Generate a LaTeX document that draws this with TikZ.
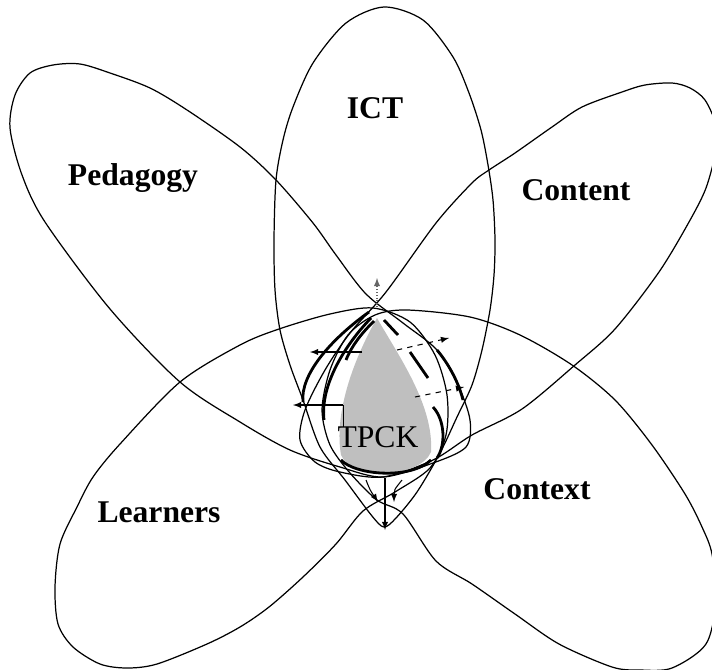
\documentclass[tikz,border=0pt]{standalone}
\usepackage{fontspec}
\setmainfont{Liberation Serif}
\tikzset{>=latex}
\colorlet{tpckgray}{black!25}
\tikzset{%
  petal/.style={draw, line width=0.7pt},% outline of one domain
  flow/.style={line width=1.6pt},% thick flow marks round TPCK
  petaltext/.style={anchor=base, font=\fontsize{18}{20}\selectfont\bfseries},%
  arr/.style={->, line width=0.6pt}%
}
\begin{document}
\begin{tikzpicture}[x=0.02cm,y=-0.02cm]
  \useasboundingbox (0,0) rectangle (712,669);
  \clip (0,0) rectangle (712,669);
  % ICT
  \draw[petal] plot[smooth cycle] coordinates {(384,7) (423,20) (453,57) (469,93)
    (481,130) (488,165) (493,200) (495,240) (494,275) (490,310) (482,350)
    (472,385) (457,417) (440,453) (417,492) (396,518) (384,527) (372,516)
    (345,480) (320,447) (303,400) (290,365) (280,330) (275,290) (274,240)
    (276,180) (283,140) (293,107) (313,63) (346,23)};
  % Pedagogy
  \draw[petal] plot[smooth cycle] coordinates {(10,128) (15,95) (30,73) (53,65)
    (80,64) (110,73) (150,88) (187,110) (240,147) (276,180) (313,223) (336,255)
    (366,294) (403,323) (437,350) (458,385) (470,420) (466,447) (433,463)
    (383,477) (340,467) (290,450) (240,422) (180,382) (110,309) (45,222)
    (22,175)};
  % Content
  \draw[petal] plot[smooth cycle] coordinates {(716,125) (705,100) (690,88)
    (672,83) (645,85) (622,92) (582,107) (552,127) (515,153) (489,170)
    (472,183) (436,223) (386,292) (350,333) (325,370) (305,410) (300,440)
    (315,462) (340,472) (383,477) (433,460) (472,435) (522,409) (575,365)
    (615,329) (659,272) (689,222) (706,188) (716,150)};
  % Learners
  \draw[petal] plot[smooth cycle] coordinates {(120,444) (93,477) (77,507)
    (60,544) (55,587) (58,624) (73,647) (100,664) (127,668) (157,664)
    (207,644) (240,627) (269,607) (303,577) (336,544) (363,511) (395,492)
    (430,468) (446,435) (447,395) (435,355) (410,322) (373,308) (330,314)
    (279,329) (240,345) (180,382)};
  % Context
  \draw[petal] plot[smooth cycle] coordinates {(407,310) (470,317) (520,335)
    (572,365) (615,400) (652,445) (685,494) (702,527) (712,554) (716,600)
    (706,644) (672,668) (640,670) (612,667) (559,644) (515,614) (472,584)
    (436,561) (403,514) (377,500) (350,473) (330,445) (322,410) (330,370)
    (348,335) (375,315)};
  % TPCK
  \fill[tpckgray] (377,318) .. controls (398,355) and (434,405) .. (431,452)
    .. controls (420,478) and (352,482) .. (341,455)
    .. controls (334,415) and (352,362) .. (377,318);
  \node (tpck) at (378,447) [anchor=base, font=\fontsize{18}{20}\selectfont] {TPCK};
  % flow marks
  \draw[flow] (369,312) .. controls (330,340) and (300,375) .. (303,402);
  \draw[flow] (371,318) .. controls (345,345) and (320,385) .. (324,420);
  \draw[flow] (374,321) .. controls (362,333) and (352,345) .. (346,360);
  \draw[flow] (384,320) -- (398,335);
  \draw[flow] (410,352) -- (428,378);
  \draw[flow] (437,350) .. controls (447,362) and (458,380) .. (463,400);
  \draw[flow] (433,407) .. controls (445,420) and (446,445) .. (437,458);
  \draw[flow] (341,460) .. controls (355,475) and (410,480) .. (431,460);
  % arrows
  \coordinate (top)  at (377,307);
  \coordinate (topa) at (377,278);
  \coordinate (l1)   at (362,352);
  \coordinate (l1a)  at (310,352);
  \coordinate (l2)   at (343,405);
  \coordinate (l2a)  at (293,405);
  \coordinate (r1)   at (397,350);
  \coordinate (r1a)  at (449,338);
  \coordinate (r2)   at (415,397);
  \coordinate (r2a)  at (464,387);
  \coordinate (bot)  at (385,478);
  \coordinate (bota) at (385,530);
  \draw[arr, densely dotted, black!60] (top) -- (topa);
  \draw[arr] (l1) -- (l1a);
  \draw[arr] (l2) -- (l2a);
  \draw[thin] (l2) -- ++(0,22);
  \draw[arr, dashed] (r1) -- (r1a);
  \draw[arr, dashed] (r2) -- (r2a);
  \draw[arr] (bot) -- (bota);
  \draw[arr] (366,480) .. controls (370,490) .. (378,502);
  \draw[arr] (402,480) .. controls (394,490) .. (394,502);
  % labels
  \node (ict)  at (375,118) [petaltext] {ICT};
  \node (ped)  at (133,185) [petaltext] {Pedagogy};
  \node (cont) at (576,200) [petaltext] {Content};
  \node (lear) at (159,522) [petaltext] {Learners};
  \node (ctx)  at (537,499) [petaltext] {Context};
\end{tikzpicture}
\end{document}
